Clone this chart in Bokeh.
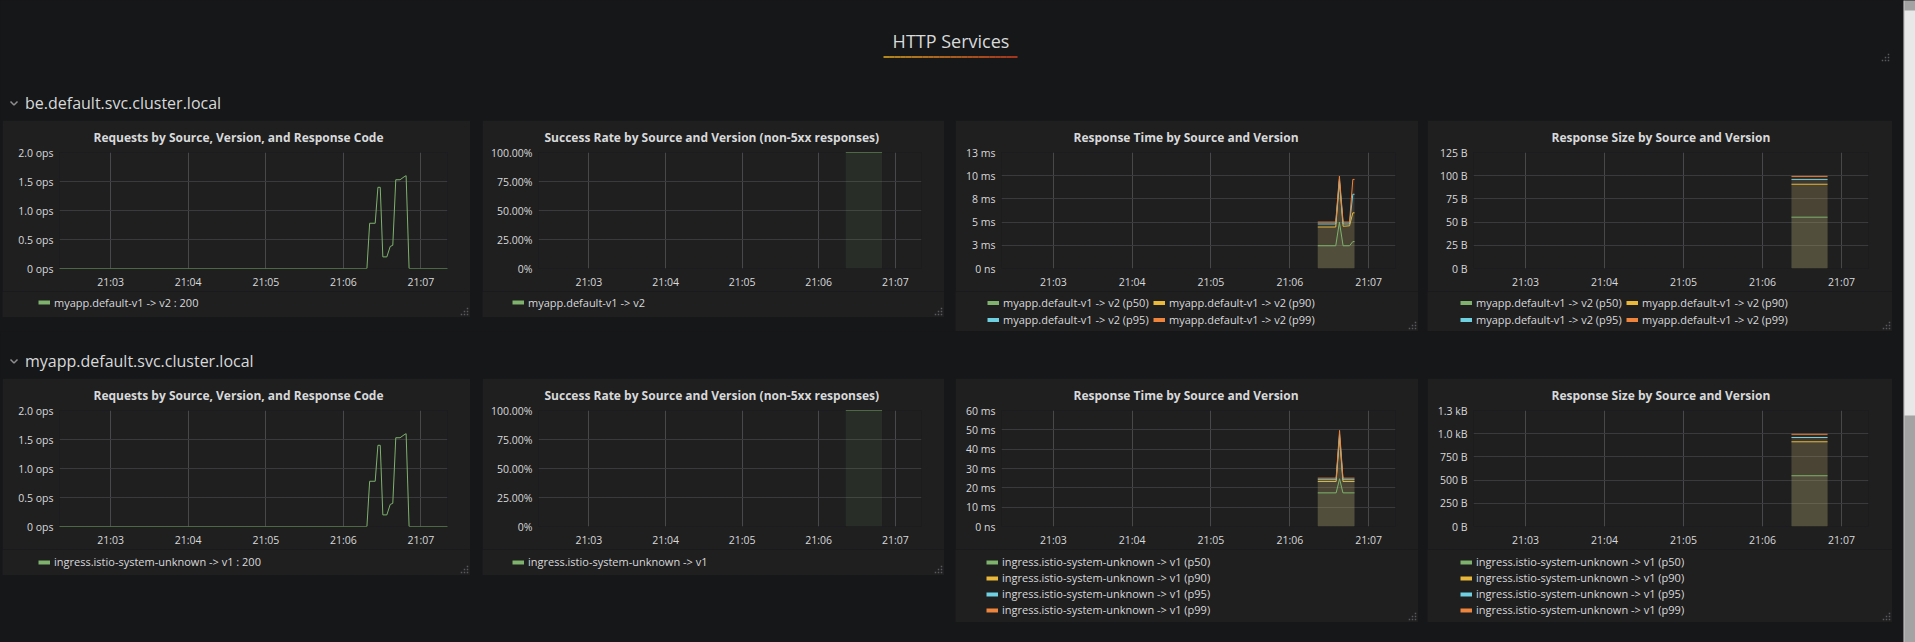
from bokeh.plotting import figure
from bokeh.models import Range1d, FixedTicker, Legend, LegendItem, Spacer, GlobalInlineStyleSheet
from bokeh.layouts import row, column
from bokeh.core.properties import value
from bokeh.embed import file_html
from bokeh.resources import INLINE

PAGE_BG = "#161719"
PANEL_BG = "#1f1f20"
TEXT = "#d8d9da"
GREEN, YELLOW, CYAN, ORANGE = "#7eb26d", "#eab839", "#6ed0e0", "#ef843c"
PCT_COLORS = [GREEN, YELLOW, CYAN, ORANGE]
FONT = "Open Sans"

# ---------------- data ----------------
dashboard_title = "HTTP Services"
services = ["be.default.svc.cluster.local", "myapp.default.svc.cluster.local"]
sources = ["myapp.default-v1 -> v2", "ingress.istio-system-unknown -> v1"]
percentiles = ["p50", "p90", "p95", "p99"]
panel_titles = ["Requests by Source, Version, and Response Code",
                "Success Rate by Source and Version (non-5xx responses)",
                "Response Time by Source and Version",
                "Response Size by Source and Version"]

# time axis in seconds relative to 21:06:00
x_window = [-219.5, 80.5]
x_ticks = [-180, -120, -60, 0, 60]
x_tick_labels = ["21:03", "21:04", "21:05", "21:06", "21:07"]

# requests (ops)
req_t = [-222, 18.2, 20.3, 24.6, 26.7, 28.5, 30.5, 33.6, 36.2, 38.2, 40.5, 43.8, 46.9, 48.5, 50.8, 82]
req_be = [0, 0, 0.78, 0.78, 1.40, 1.40, 0.20, 0.20, 0.38, 0.40, 1.53, 1.53, 1.58, 1.60, 0, 0]
req_myapp = [0, 0, 0.78, 0.78, 1.40, 1.40, 0.20, 0.20, 0.38, 0.40, 1.53, 1.53, 1.58, 1.60, 0, 0]
req_ticks = [0, 0.5, 1.0, 1.5, 2.0]
req_labels = ["0 ops", "0.5 ops", "1.0 ops", "1.5 ops", "2.0 ops"]

# success rate (fraction)
succ_t = [21.2, 49.6]
succ_be = [1.0, 1.0]
succ_myapp = [1.0, 1.0]
succ_ticks = [0, 0.25, 0.5, 0.75, 1.0]
succ_labels = ["0%", "25.00%", "50.00%", "75.00%", "100.00%"]

# response time (ms)
rt_be_t = [21.3, 35.0, 37.8, 40.6, 45.5, 48.0, 49.3]
rt_be_p50 = [2.45, 2.45, 5.0, 2.45, 2.45, 2.9, 2.9]
rt_be_p90 = [4.47, 4.47, 9.4, 4.55, 4.6, 6.0, 6.0]
rt_be_p95 = [4.8, 4.8, 9.6, 4.8, 4.8, 8.0, 8.0]
rt_be_p99 = [5.0, 5.0, 9.95, 5.0, 5.0, 9.6, 9.6]
rt_be_ticks = [0, 2.5, 5, 7.5, 10, 12.5]
rt_be_labels = ["0 ns", "3 ms", "5 ms", "8 ms", "10 ms", "13 ms"]

rt_my_t = [21.3, 35.3, 37.9, 40.5, 49.3]
rt_my_p50 = [17.4, 17.4, 24.7, 17.4, 17.4]
rt_my_p90 = [23.3, 23.3, 46.0, 23.3, 23.3]
rt_my_p95 = [24.2, 24.2, 47.7, 24.2, 24.2]
rt_my_p99 = [25.0, 25.0, 49.7, 25.0, 25.0]
rt_my_ticks = [0, 10, 20, 30, 40, 50, 60]
rt_my_labels = ["0 ns", "10 ms", "20 ms", "30 ms", "40 ms", "50 ms", "60 ms"]

# response size (bytes)
sz_t = [22.0, 49.4]
sz_be_p50 = [55.3, 55.3]
sz_be_p90 = [90.8, 90.8]
sz_be_p95 = [96.0, 96.0]
sz_be_p99 = [99.3, 99.3]
sz_be_ticks = [0, 25, 50, 75, 100, 125]
sz_be_labels = ["0 B", "25 B", "50 B", "75 B", "100 B", "125 B"]

sz_my_p50 = [547, 547]
sz_my_p90 = [913, 913]
sz_my_p95 = [959, 959]
sz_my_p99 = [994, 994]
sz_my_ticks = [0, 250, 500, 750, 1000, 1250]
sz_my_labels = ["0 B", "250 B", "500 B", "750 B", "1.0 kB", "1.3 kB"]

PLOT_H = 171          # title + frame + x axis part of each panel
PANEL_W = [468, 462, 463, 465]
GAPS = [2, 12, 11, 9]
LEFT_B = [57, 56, 46, 46]
RIGHT_B = [23, 23, 23, 24]
TITLE_OFF = [34, 6, 72, 78]


# ---------------- helpers ----------------
def make_panel(k, yticks, ylabels):
    p = figure(width=PANEL_W[k], height=PLOT_H, title=panel_titles[k],
               x_range=Range1d(*x_window), y_range=Range1d(yticks[0], yticks[-1]),
               output_backend="svg", toolbar_location=None,
               min_border_left=LEFT_B[k], min_border_right=RIGHT_B[k],
               min_border_top=31, min_border_bottom=22,
               background_fill_color=PANEL_BG, border_fill_color=PANEL_BG,
               outline_line_color=None)
    p.title.align = "left"
    p.title.offset = TITLE_OFF[k]
    p.title.text_font = FONT
    p.title.text_font_size = "12px"
    p.title.text_font_style = "bold"
    p.title.text_color = TEXT
    p.title.standoff = 13
    p.xaxis.ticker = FixedTicker(ticks=x_ticks)
    p.xaxis.major_label_overrides = {float(t): s for t, s in zip(x_ticks, x_tick_labels)}
    p.yaxis.ticker = FixedTicker(ticks=yticks)
    p.yaxis.major_label_overrides = {float(t): s for t, s in zip(yticks, ylabels)}
    for ax in (p.xaxis[0], p.yaxis[0]):
        ax.axis_line_color = None
        ax.major_tick_line_color = None
        ax.minor_tick_line_color = None
        ax.major_tick_out = 0
        ax.major_tick_in = 0
        ax.minor_tick_out = 0
        ax.minor_tick_in = 0
        ax.major_label_text_color = TEXT
        ax.major_label_text_font = FONT
        ax.major_label_text_font_size = "10.5px"
        ax.major_label_standoff = 6
    p.xgrid.grid_line_color = "#48484b"
    p.ygrid.grid_line_color = "#3a3a3d"
    return p


def legend_fig(k, h, labels, colors, gx, first_c, row_h, ncols=1, label_w=20):
    w = PANEL_W[k]
    f = figure(width=w, height=h, x_range=Range1d(0, w), y_range=Range1d(0, h),
               output_backend="svg", toolbar_location=None, min_border=0,
               x_axis_type=None, y_axis_type=None,
               background_fill_color=PANEL_BG, border_fill_color=PANEL_BG, outline_line_color=None)
    f.grid.visible = False
    items = []
    for lab, c in zip(labels, colors):
        # renderer kept outside the visible range; only its legend swatch shows
        r = f.line(x=[-200, -190], y=[-200, -200], line_color=c, line_width=4)
        items.append(LegendItem(label=lab, renderers=[r]))
    nrows = (len(labels) + ncols - 1) // ncols
    top = first_c - row_h / 2.0
    bottom = top + nrows * row_h
    leg = Legend(items=items, location=(gx, h - bottom),
                 orientation="horizontal" if ncols > 1 else "vertical",
                 padding=0, margin=0, spacing=0,
                 glyph_width=12, glyph_height=row_h, label_height=row_h,
                 label_width=label_w, label_standoff=4,
                 label_text_font=FONT, label_text_font_size="11px",
                 label_text_color=TEXT, label_text_baseline="middle",
                 background_fill_alpha=0, border_line_alpha=0)
    if ncols > 1:
        leg.ncols = ncols
    f.add_layout(leg, "center")
    # resize handle dots in the panel corner
    dx = [w - 3, w - 6, w - 9, w - 3, w - 6, w - 3]
    dy = [3, 3, 3, 6, 6, 9]
    f.rect(x=dx, y=dy, width=1.5, height=1.5, fill_color="#5a5a5c", line_color=None)
    return f


def header_fig(h, y0, section, with_title=False):
    f = figure(width=1892, height=h, x_range=Range1d(0, 1892), y_range=Range1d(y0 + h, y0),
               output_backend="svg", toolbar_location=None, min_border=0,
               x_axis_type=None, y_axis_type=None,
               background_fill_color=PAGE_BG, border_fill_color=PAGE_BG, outline_line_color=None)
    f.grid.visible = False
    if with_title:
        f.text(x=[950.5], y=[40], text=[dashboard_title], text_align="center", text_baseline="middle",
               text_font=value(FONT), text_font_size="18px", text_color=TEXT)
        n = 24
        x0, x1 = 883.0, 1017.0
        c0, c1 = (232, 172, 34), (212, 66, 32)
        xs0, xs1, cols = [], [], []
        for i in range(n):
            a = i / (n - 1)
            xs0.append(x0 + (x1 - x0) * i / n)
            xs1.append(x0 + (x1 - x0) * (i + 1) / n)
            cols.append("#%02x%02x%02x" % tuple(int(c0[j] + (c1[j] - c0[j]) * a) for j in range(3)))
        f.segment(x0=xs0, y0=[56.5] * n, x1=xs1, y1=[56.5] * n, line_color=cols, line_width=1.5)
        f.rect(x=[1888, 1885, 1888, 1882, 1885, 1888], y=[60, 60, 57, 60, 57, 54],
               width=1.5, height=1.5, fill_color="#5a5a5c", line_color=None)
    ty = y0 + h - 18
    f.text(x=[24.5], y=[ty], text=[section], text_align="left", text_baseline="middle",
           text_font=value(FONT), text_font_size="16px", text_color=TEXT)
    f.line(x=[10, 13.5, 17], y=[ty - 1, ty + 2.5, ty - 1], line_color="#8e8e90", line_width=1.5)
    return f


def with_gaps(figs, h):
    kids = []
    for g, f in zip(GAPS, figs):
        kids.append(Spacer(width=g, height=h))
        kids.append(f)
    return row(*kids)


def build_rows(idx, small_h, big_h, rt_t, rt_vals, rt_ticks, rt_labels, sz_vals, sz_ticks, sz_labels,
               req_vals, succ_vals, first_c, big_cols):
    src = sources[idx]
    p1 = make_panel(0, req_ticks, req_labels)
    p1.line(req_t, req_vals, line_color=GREEN, line_width=1)

    p2 = make_panel(1, succ_ticks, succ_labels)
    p2.varea(x=succ_t, y1=[0] * len(succ_t), y2=succ_vals, fill_color=GREEN, fill_alpha=0.1)
    p2.line(succ_t, succ_vals, line_color=GREEN, line_width=1)

    p3 = make_panel(2, rt_ticks, rt_labels)
    for vals, c in zip(rt_vals, PCT_COLORS):
        p3.varea(x=rt_t, y1=[0] * len(rt_t), y2=vals, fill_color=c, fill_alpha=0.1)
    for vals, c in zip(rt_vals, PCT_COLORS):
        p3.line(rt_t, vals, line_color=c, line_width=1)

    p4 = make_panel(3, sz_ticks, sz_labels)
    for vals, c in zip(sz_vals, PCT_COLORS):
        p4.varea(x=sz_t, y1=[0] * len(sz_t), y2=vals, fill_color=c, fill_alpha=0.1)
    for vals, c in zip(sz_vals, PCT_COLORS):
        p4.line(sz_t, vals, line_color=c, line_width=1)

    labs = ["%s (%s)" % (src, pc) for pc in percentiles]
    l1 = legend_fig(0, small_h, [src + " : 200"], [GREEN], 36, first_c, 16)
    l2 = legend_fig(1, small_h, [src], [GREEN], 30, first_c, 16)
    if big_cols == 2:
        l3 = legend_fig(2, big_h, labs, PCT_COLORS, 32, first_c, 17, ncols=2, label_w=150)
        l4 = legend_fig(3, big_h, labs, PCT_COLORS, 33, first_c, 17, ncols=2, label_w=150)
    else:
        l3 = legend_fig(2, big_h, labs, PCT_COLORS, 31, first_c, 16)
        l4 = legend_fig(3, big_h, labs, PCT_COLORS, 33, first_c, 16)
    return with_gaps([p1, p2, p3, p4], PLOT_H), with_gaps([l1, l2, l3, l4], big_h)


h1 = header_fig(120, 0, services[0], with_title=True)
r1a, r1b = build_rows(0, 26, 40, rt_be_t, [rt_be_p50, rt_be_p90, rt_be_p95, rt_be_p99], rt_be_ticks, rt_be_labels,
                      [sz_be_p50, sz_be_p90, sz_be_p95, sz_be_p99], sz_be_ticks, sz_be_labels,
                      req_be, succ_be, 11, 2)
h2 = header_fig(47, 331, services[1])
r2a, r2b = build_rows(1, 26, 73, rt_my_t, [rt_my_p50, rt_my_p90, rt_my_p95, rt_my_p99], rt_my_ticks, rt_my_labels,
                      [sz_my_p50, sz_my_p90, sz_my_p95, sz_my_p99], sz_my_ticks, sz_my_labels,
                      req_myapp, succ_myapp, 12.5, 1)

main = column(h1, r1a, r1b, h2, r2a, r2b, Spacer(width=1892, height=20))

sb = figure(width=12, height=642, x_range=Range1d(0, 12), y_range=Range1d(642, 0),
            output_backend="svg", toolbar_location=None, min_border=0,
            x_axis_type=None, y_axis_type=None, outline_line_color=None,
            background_fill_color="#a3a3a3", border_fill_color="#a3a3a3")
sb.grid.visible = False
sb.quad(left=[0], right=[1], top=[0], bottom=[642], fill_color="#c8c8c8", line_color=None)
sb.quad(left=[1], right=[12], top=[10], bottom=[415], fill_color="#e8e8e8", line_color=None)

page = row(main, Spacer(width=11, height=642), sb, styles={"background-color": PAGE_BG})
page.stylesheets = [GlobalInlineStyleSheet(css="html, body { background-color: #161719; }")]

open("out.html", "w").write(file_html(page, INLINE))
